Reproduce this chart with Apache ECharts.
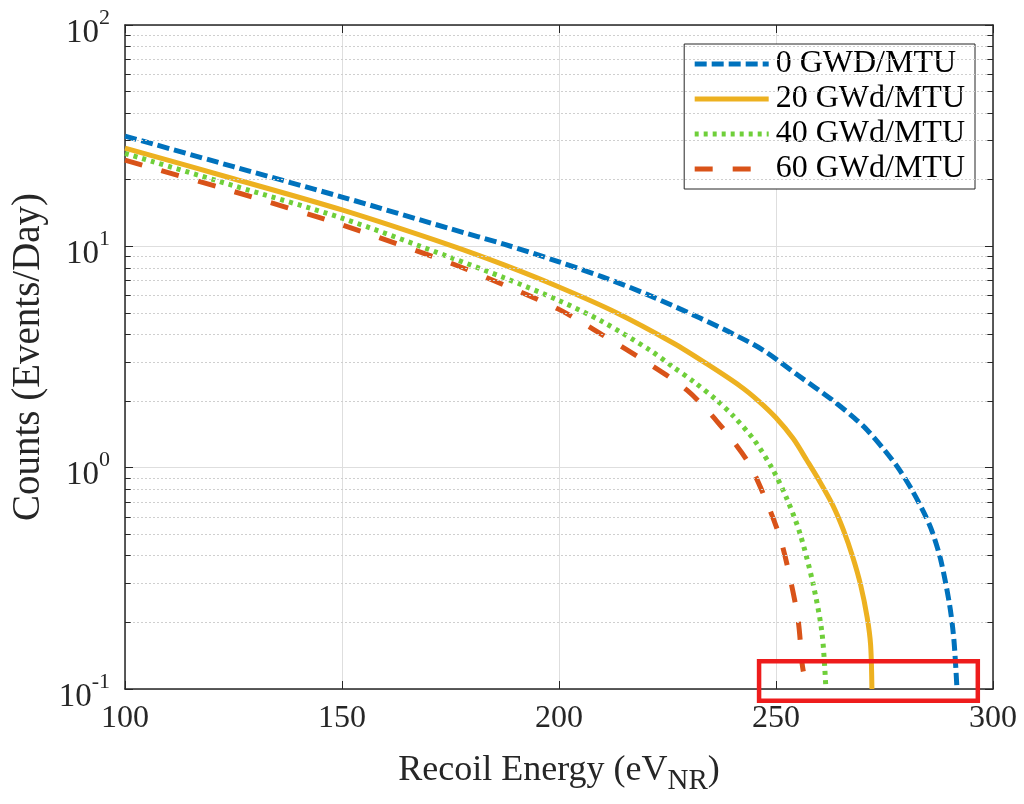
<!DOCTYPE html>
<html>
<head>
<meta charset="utf-8">
<script src="https://cdn.jsdelivr.net/npm/echarts@6/dist/echarts.min.js"></script>
<style>
html,body{margin:0;padding:0;background:#fff;}
#c{width:1024px;height:804px;}
</style>
</head>
<body>
<div id="c"></div>
<script>
// ---- data ----
const seriesNames = ['0 GWD/MTU', '20 GWd/MTU', '40 GWd/MTU', '60 GWd/MTU'];

const e0 = [100, 125, 150, 175, 187.5, 200, 210, 220, 232.5, 240, 247, 255, 263, 268, 271, 275, 278.1, 281, 284, 286, 288, 290, 291, 291.7];
const c0 = [31.5, 22.9, 16.7, 12.0, 10.2, 8.51, 7.28, 6.1, 4.74, 4.03, 3.40, 2.62, 2.02, 1.68, 1.48, 1.20, 1.0, 0.813, 0.631, 0.513, 0.380, 0.240, 0.166, 0.1];

const e20 = [100, 125, 150, 175, 187.5, 200, 213, 226.3, 234, 241.7, 246, 250, 254, 257.1, 260, 263.1, 265.5, 267.7, 269.5, 271, 271.8, 272.1];
const c20 = [27.8, 20.2, 14.6, 10.1, 8.22, 6.55, 5.04, 3.66, 2.95, 2.34, 2.0, 1.68, 1.35, 1.08, 0.871, 0.676, 0.525, 0.394, 0.295, 0.211, 0.158, 0.1];

const e40 = [100, 125, 150, 175, 187.5, 200, 210, 221, 226.3, 231, 236.3, 240.2, 245, 249.3, 252.5, 255.5, 258.5, 260.6, 261.5];
const c40 = [26.3, 18.8, 13.4, 8.91, 7.19, 5.69, 4.57, 3.39, 2.85, 2.45, 2.02, 1.71, 1.33, 0.977, 0.724, 0.506, 0.301, 0.179, 0.1];

const e60 = [100, 125, 150, 175, 187.5, 200, 210, 221.3, 229.5, 236.4, 243.3, 247, 250.9, 253.2, 255.1, 256, 256.3];
const c60 = [24.5, 17.7, 12.5, 8.4, 6.67, 5.19, 3.98, 2.9, 2.24, 1.62, 1.08, 0.767, 0.485, 0.32, 0.205, 0.131, 0.12];

const xTicks = [100, 150, 200, 250, 300];
const minorMultipliers = [2, 3, 4, 5, 6, 7, 8, 9];
const decades = [0.1, 1, 10];
// highlighted region (red box) in data units: [x1, y1], [x2, y2]
const boxFrom = [246.1, 0.1336];
const boxTo = [296.5, 0.0885];

// ---- build ----
const FONT = 'Liberation Serif';
const pair = (xs, ys) => xs.map((x, i) => [x, ys[i]]);
const minorValues = [];
decades.forEach(d => minorMultipliers.forEach(m => minorValues.push(+(d * m).toPrecision(3))));

const minorGrid = minorValues.map(v => ({yAxis: v}));
const minorTicks = [];
minorValues.forEach(v => {
  minorTicks.push([{coord: [xTicks[0], v]}, {coord: [xTicks[0] + 1.3, v]}]);
  minorTicks.push([{coord: [xTicks[xTicks.length - 1] - 1.3, v]}, {coord: [xTicks[xTicks.length - 1], v]}]);
});

const colors = ['#0072BD', '#EDB120', '#6FCF3A', '#D95319'];
const dashes = [[12, 5], 'solid', [4, 5], [18, 20]];
const dataSets = [pair(e0, c0), pair(e20, c20), pair(e40, c40), pair(e60, c60)];

const LW = 5;
const curveSeries = dataSets.map((d, i) => ({
  name: seriesNames[i],
  type: 'line',
  data: d,
  showSymbol: false,
  symbol: 'none',
  smooth: 0.3,
  z: 4,
  emphasis: {disabled: true},
  lineStyle: {color: colors[i], width: LW, type: dashes[i], cap: 'butt'},
  itemStyle: {color: colors[i]}
}));

const chart = echarts.init(document.getElementById('c'), null, {renderer: 'canvas'});
const axisCol = '#262626';
chart.setOption({
  animation: false,
  backgroundColor: '#fff',
  textStyle: {fontFamily: FONT},
  grid: {left: 125, right: 31, top: 25, bottom: 115},
  legend: {
    data: seriesNames,
    orient: 'vertical',
    right: 49, top: 44,
    itemWidth: 74, itemHeight: 16, itemGap: 3,
    padding: [4, 10, 4, 8],
    borderColor: axisCol, borderWidth: 1,
    backgroundColor: '#fff',
    itemStyle: {opacity: 0},
    lineStyle: {width: LW},
    textStyle: {fontFamily: FONT, fontSize: 32, color: '#000', padding: [0, 0, 0, 2]}
  },
  xAxis: [{
    type: 'value', min: 100, max: 300, interval: 50,
    name: '{n|Recoil Energy (eV}{sub|NR}{n|)}',
    nameLocation: 'middle', nameGap: 56,
    nameTextStyle: {rich: {
      n: {fontFamily: FONT, fontSize: 36, color: '#262626'},
      sub: {fontFamily: FONT, fontSize: 29, color: '#262626', padding: [22, 0, 0, 0]}
    }},
    axisLine: {lineStyle: {color: axisCol, width: 1.5}},
    axisTick: {inside: true, length: 8, lineStyle: {color: axisCol}},
    axisLabel: {fontFamily: FONT, fontSize: 32, color: '#262626', margin: 14},
    splitLine: {show: true, lineStyle: {color: '#dedede', width: 1}}
  }, {
    type: 'value', min: 100, max: 300, interval: 50, position: 'top',
    axisLine: {show: true, lineStyle: {color: axisCol, width: 1.5}},
    axisTick: {inside: true, length: 8, lineStyle: {color: axisCol}},
    axisLabel: {show: false}, splitLine: {show: false}
  }],
  yAxis: [{
    type: 'log', logBase: 10, min: 0.1, max: 100,
    name: 'Counts (Events/Day)',
    nameLocation: 'middle', nameGap: 76,
    nameTextStyle: {fontFamily: FONT, fontSize: 39, color: '#262626'},
    axisLine: {show: true, lineStyle: {color: axisCol, width: 1.5}},
    axisTick: {inside: true, length: 8, lineStyle: {color: axisCol}},
    axisLabel: {
      margin: 15,
      formatter: v => '{b|10}{s|' + Math.round(Math.log10(v)) + '}',
      rich: {
        b: {fontFamily: FONT, fontSize: 33, color: '#262626', padding: [16, 0, 0, 0]},
        s: {fontFamily: FONT, fontSize: 22, color: '#262626', padding: [0, 0, 14, 0]}
      }
    },
    splitLine: {show: true, lineStyle: {color: '#dedede', width: 1}}
  }, {
    type: 'log', logBase: 10, min: 0.1, max: 100, position: 'right',
    axisLine: {show: true, lineStyle: {color: axisCol, width: 1.5}},
    axisTick: {inside: true, length: 8, lineStyle: {color: axisCol}},
    axisLabel: {show: false}, splitLine: {show: false}
  }],
  series: [{
    name: 'minor', type: 'line', data: [], z: 1, silent: true,
    markLine: {
      silent: true, symbol: ['none', 'none'], animation: false,
      label: {show: false},
      lineStyle: {color: '#cfcfcf', width: 1, type: [2, 2]},
      data: minorGrid
    }
  }, {
    name: 'minorTicks', type: 'line', data: [], z: 2, silent: true,
    markLine: {
      silent: true, symbol: ['none', 'none'], animation: false,
      label: {show: false},
      lineStyle: {color: axisCol, width: 1, type: 'solid'},
      data: minorTicks
    }
  }].concat(curveSeries)
});

// red highlight box, positioned through the axes
const p1 = chart.convertToPixel({xAxisIndex: 0, yAxisIndex: 0}, boxFrom);
const p2 = chart.convertToPixel({xAxisIndex: 0, yAxisIndex: 0}, boxTo);
chart.setOption({
  graphic: [{
    type: 'rect', z: 100, silent: true,
    shape: {x: p1[0], y: p1[1], width: p2[0] - p1[0], height: p2[1] - p1[1]},
    style: {fill: 'none', stroke: '#EE1C1C', lineWidth: 4.5}
  }]
});
</script>
</body>
</html>
